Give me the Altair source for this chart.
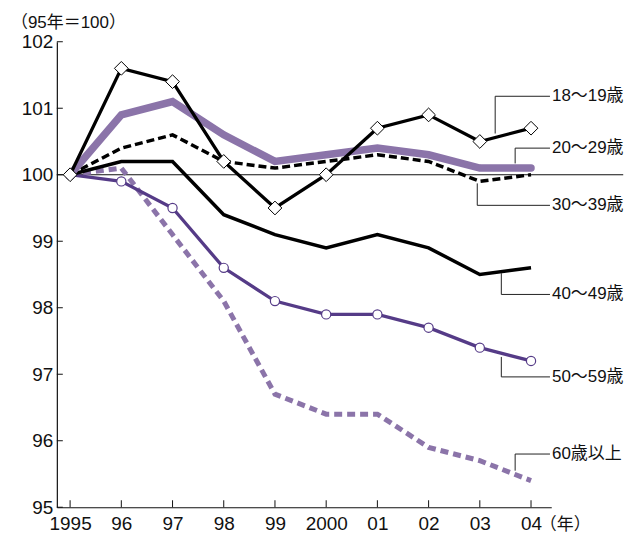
import altair as alt
import pandas as pd

# ---------------- data ----------------
YEARS = [1995, 1996, 1997, 1998, 1999, 2000, 2001, 2002, 2003, 2004]
X_LABELS = ["1995", "96", "97", "98", "99", "2000", "01", "02", "03", "04"]
Y_TICKS = [95, 96, 97, 98, 99, 100, 101, 102]

S18 = [100, 101.6, 101.4, 100.2, 99.5, 100.0, 100.7, 100.9, 100.5, 100.7]
S20 = [100, 100.9, 101.1, 100.6, 100.2, 100.3, 100.4, 100.3, 100.1, 100.1]
S30 = [100, 100.4, 100.6, 100.2, 100.1, 100.2, 100.3, 100.2, 99.9, 100.0]
S40 = [100, 100.2, 100.2, 99.4, 99.1, 98.9, 99.1, 98.9, 98.5, 98.6]
S50 = [100, 99.9, 99.5, 98.6, 98.1, 97.9, 97.9, 97.7, 97.4, 97.2]
S60 = [100, 100.1, 99.1, 98.1, 96.7, 96.4, 96.4, 95.9, 95.7, 95.4]

SERIES_NAMES = ["18～19歳", "20～29歳", "30～39歳", "40～49歳", "50～59歳", "60歳以上"]
SERIES_VALUES = [S18, S20, S30, S40, S50, S60]

# leader lines for labels in data coordinates
LEADER_X = [[2003.30, 2003.30, 2004.37],
            [2003.69, 2003.69, 2004.37],
            [2002.95, 2002.95, 2004.37],
            [2003.42, 2003.42, 2004.37],
            [2003.42, 2003.42, 2004.37],
            [2003.69, 2003.69, 2004.37]]
LEADER_Y = [[100.62, 101.18, 101.18],
            [100.17, 100.40, 100.40],
            [99.87, 99.54, 99.54],
            [98.52, 98.20, 98.20],
            [97.26, 96.96, 96.96],
            [95.55, 95.80, 95.80]]

X_DOMAIN = [1994.741, 2004.395]
Y_DOMAIN = [95, 102]
REF_VALUE = 100
REF_X = [1994.741, 2005.8]

TITLE = "（95年＝100）"
X_TITLE = "（年）"

# ---------------- tables ----------------
rows = []
for name, vals in zip(SERIES_NAMES, SERIES_VALUES):
    for yr, v in zip(YEARS, vals):
        rows.append({"series": name, "year": yr, "value": v})
df = pd.DataFrame(rows)

lead_rows = []
for name, xs_, ys_ in zip(SERIES_NAMES, LEADER_X, LEADER_Y):
    for i, (xx, yy) in enumerate(zip(xs_, ys_)):
        lead_rows.append({"series": name, "order": i, "x": xx, "y": yy})
leaders = pd.DataFrame(lead_rows)
labels = pd.DataFrame({"series": SERIES_NAMES,
                       "x": [v[-1] for v in LEADER_X],
                       "y": [v[-1] for v in LEADER_Y]})

ticks_x = pd.DataFrame({"year": YEARS})
ticks_y = pd.DataFrame({"value": Y_TICKS})
ref = pd.DataFrame({"x": [REF_X[0]], "x2": [REF_X[1]], "y": [REF_VALUE]})

FONT = "Liberation Sans, Arial, Noto Sans CJK JP, sans-serif"
W, H = 496, 467
LIGHT = "#8b74a9"
DARK = "#553b87"

label_expr = "[" + ",".join("'%s'" % s for s in X_LABELS) + "][datum.value - %d]" % YEARS[0]

xs = alt.Scale(domain=X_DOMAIN, nice=False, zero=False)
ys = alt.Scale(domain=Y_DOMAIN, nice=False, zero=False)

x_axis = alt.Axis(values=YEARS, labelExpr=label_expr, labelFontSize=19, labelFont=FONT,
                  labelColor="#111", labelPadding=7, ticks=False, tickSize=0, grid=False,
                  domainColor="#111", domainWidth=1.2, labelOverlap=False, labelFlush=False,
                  title=X_TITLE, titleFont=FONT, titleFontSize=17, titleFontWeight="normal",
                  titleColor="#111", titleX=484, titleY=17, titleAlign="left",
                  titleBaseline="middle", titleAnchor="start")
y_axis = alt.Axis(values=Y_TICKS, format="d", labelFontSize=19, labelFont=FONT,
                  labelColor="#111", labelPadding=4, ticks=False, tickSize=0, grid=False,
                  domainColor="#111", domainWidth=1.2, title=None, labelFlush=False,
                  labelOverlap=False)

base = alt.Chart(df)

def series_line(name, **kw):
    return base.transform_filter(alt.datum.series == name).mark_line(**kw).encode(
        x=alt.X("year:Q", scale=xs, axis=x_axis),
        y=alt.Y("value:Q", scale=ys, axis=y_axis),
    )

def series_points(name, **kw):
    return base.transform_filter(alt.datum.series == name).mark_point(**kw).encode(
        x=alt.X("year:Q", scale=xs),
        y=alt.Y("value:Q", scale=ys),
    )

refline = alt.Chart(ref).mark_rule(color="#111", strokeWidth=1.2, clip=False).encode(
    x=alt.X("x:Q", scale=xs), x2="x2:Q", y=alt.Y("y:Q", scale=ys))

xt = alt.Chart(ticks_x).mark_rule(color="#111", strokeWidth=1).encode(
    x=alt.X("year:Q", scale=xs), y=alt.value(H), y2=alt.value(H - 7))
yt = alt.Chart(ticks_y).mark_rule(color="#111", strokeWidth=1).encode(
    y=alt.Y("value:Q", scale=ys), x=alt.value(0), x2=alt.value(6))

l60 = series_line(SERIES_NAMES[5], color=LIGHT, strokeWidth=5, strokeDash=[8, 5])
l50 = series_line(SERIES_NAMES[4], color=DARK, strokeWidth=3.3)
p50 = series_points(SERIES_NAMES[4], shape="circle", size=85, filled=True, fill="white",
                    stroke=DARK, strokeWidth=1.2, opacity=1)
l40 = series_line(SERIES_NAMES[3], color="#000", strokeWidth=3.5)
l20 = series_line(SERIES_NAMES[1], color=LIGHT, strokeWidth=7.5, strokeCap="round")
l30 = series_line(SERIES_NAMES[2], color="#000", strokeWidth=3.5, strokeDash=[8, 4])
l18 = series_line(SERIES_NAMES[0], color="#000", strokeWidth=3.3)
p18 = series_points(SERIES_NAMES[0], shape="diamond", size=190, filled=True, fill="white",
                    stroke="#000", strokeWidth=1, opacity=1)

lead = alt.Chart(leaders).mark_line(color="#222", strokeWidth=1, clip=False).encode(
    x=alt.X("x:Q", scale=xs), y=alt.Y("y:Q", scale=ys), detail="series:N", order="order:Q")
txt = alt.Chart(labels).mark_text(align="left", baseline="middle", dx=2, fontSize=17,
                                  font=FONT, color="#111", clip=False).encode(
    x=alt.X("x:Q", scale=xs), y=alt.Y("y:Q", scale=ys), text="series:N")

chart = alt.layer(
    refline, xt, yt, l60, l50, p50, l40, l30, l20, l18, p18, lead, txt
).properties(
    width=W, height=H,
    title=alt.TitleParams(TITLE, anchor="start", frame="group", dx=-46, dy=3, fontSize=17,
                          font=FONT, fontWeight="normal", color="#111"),
    autosize=alt.AutoSizeParams(type="none"),
    padding={"left": 49, "top": 33, "right": 80, "bottom": 27},
).configure_view(stroke=None)

chart.save("out.html", embed_options={"renderer": "svg", "actions": False})
